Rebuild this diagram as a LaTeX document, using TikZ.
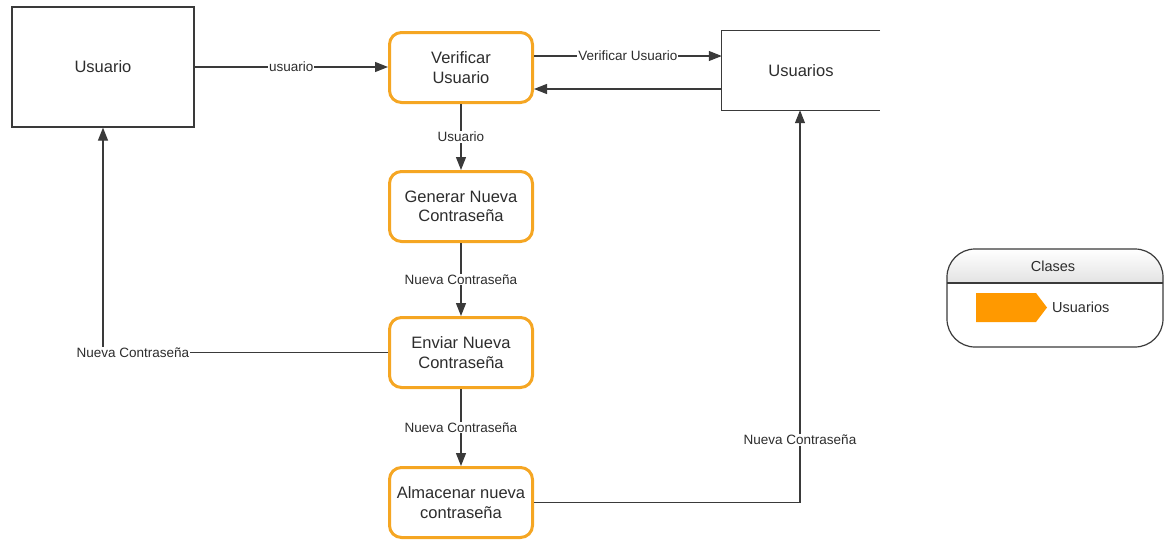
\documentclass[tikz,border=0pt]{standalone}
\usepackage{fontspec}
\setmainfont{Liberation Sans}
\usetikzlibrary{arrows.meta}
\definecolor{procorange}{RGB}{245,166,35}
\definecolor{legendorange}{RGB}{255,153,0}
\definecolor{inkline}{RGB}{58,58,58}
\definecolor{inktext}{RGB}{45,45,45}
\begin{document}
\begin{tikzpicture}[x=1pt,y=-1pt,
  every node/.style={text=inktext},
  entity/.style={draw=inkline, line width=1.3pt, minimum width=182pt, minimum height=120pt,
    font=\fontsize{16.5}{19}\selectfont},
  process/.style={draw=procorange, line width=3pt, rounded corners=12pt, fill=white,
    minimum width=143pt, minimum height=70pt, align=center,
    font=\fontsize{16.5}{19.5}\selectfont},
  flow/.style={draw=inkline, line width=1.2pt},
  arr/.style={flow, -{Triangle[length=13pt,width=10pt]}},
  lbl/.style={fill=white, inner sep=1pt, font=\fontsize{13.5}{15}\selectfont}]
\useasboundingbox (0,0) rectangle (1171,541);

% external entities and data store
\node[entity] (usr) at (103,67) {Usuario};
\node[minimum width=158pt, minimum height=79pt, inner sep=0pt,
  font=\fontsize{16.5}{19}\selectfont] (store) at (801,70.5) {Usuarios};
\draw[inkline, line width=1.3pt] (store.north east) -- (store.north west)
  -- (store.south west) -- (store.south east);

% processes
\node[process] (verif) at (461,67.5) {Verificar\\Usuario};
\node[process] (gen) at (461,206.5) {Generar Nueva\\Contraseña};
\node[process] (env) at (461,352.5) {Enviar Nueva\\Contraseña};
\node[process] (alm) at (461,502.5) {Almacenar nueva\\contraseña};

\coordinate (y56) at (0,56);
\coordinate (y89) at (0,89);
\coordinate (x800) at (800,0);

% data flows
\draw[arr] (usr.east) -- node[lbl] {usuario} (usr.east -| verif.west);
\draw[arr] (verif.east |- y56) -- node[lbl, pos=0.5] {Verificar Usuario} (store.west |- y56);
\draw[arr] (store.west |- y89) -- (verif.east |- y89);
\draw[arr] (verif.south) -- node[lbl] {Usuario} (gen.north);
\draw[arr] (gen.south) -- node[lbl] {Nueva Contraseña} (env.north);
\draw[arr] (env.south) -- node[lbl] {Nueva Contraseña} (alm.north);
\draw[arr] (env.west) -- (env.west -| usr.south) -- (usr.south);
\node[lbl] (lblback) at (133,353) {Nueva Contraseña};
\draw[arr] (alm.east) -- (alm.east -| x800) -- (x800 |- store.south);
\node[lbl] (lblstore) at (800,440) {Nueva Contraseña};

% legend
\begin{scope}
  \clip[rounded corners=28pt] (947,249) rectangle (1163,347);
  \shade[top color=white, bottom color=gray!22] (947,249) rectangle (1163,283);
\end{scope}
\draw[inkline, line width=1.2pt, rounded corners=28pt] (947,249) rectangle (1163,347);
\draw[inkline, line width=1.2pt] (947,283) -- (1163,283);
\node[font=\fontsize{14.5}{17}\selectfont] (legtitle) at (1053,266) {Clases};
\fill[legendorange] (976,293) -- (1036,293) -- (1047,307.5) -- (1036,322) -- (976,322) -- cycle;
\node[font=\fontsize{14.5}{17}\selectfont, anchor=west, inner sep=0pt] (legitem) at (1052,307) {Usuarios};
\end{tikzpicture}
\end{document}
